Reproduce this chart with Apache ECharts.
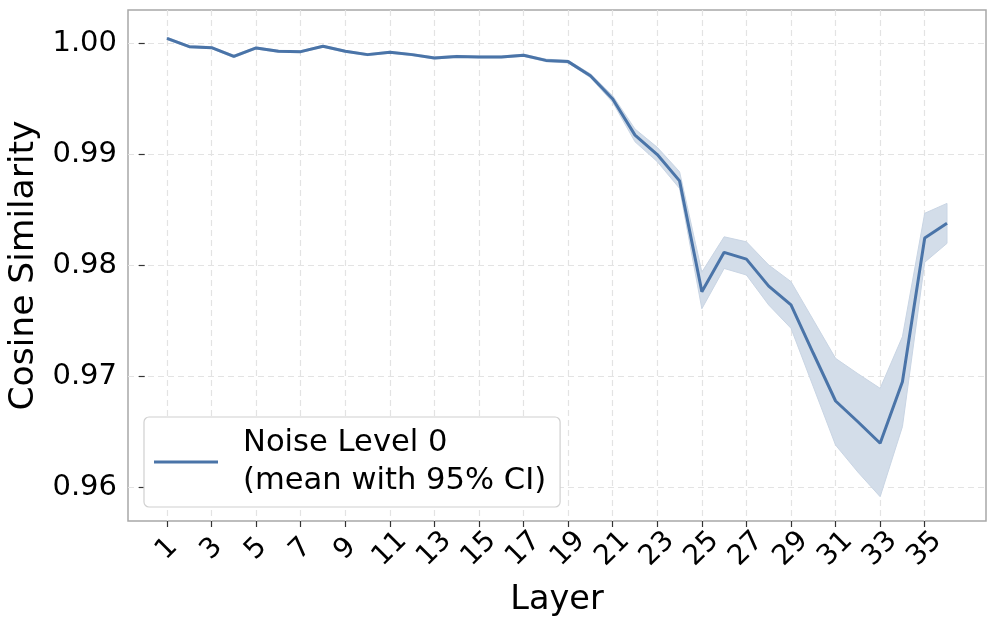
<!DOCTYPE html>
<html>
<head>
<meta charset="utf-8">
<script src="https://cdn.jsdelivr.net/npm/echarts@6/dist/echarts.min.js"></script>
<style>
html,body{margin:0;padding:0;background:#fff;}
#chart{width:997px;height:626px;}
</style>
</head>
<body>
<div id="chart"></div>
<script>
const layers = [1,2,3,4,5,6,7,8,9,10,11,12,13,14,15,16,17,18,19,20,21,22,23,24,25,26,27,28,29,30,31,32,33,34,35,36];
const meanValues = [1.00041,0.99967,0.99958,0.99879,0.99955,0.99925,0.99922,0.99970,0.99925,0.99895,0.99916,0.99895,0.99865,0.99879,0.99874,0.99874,0.99889,0.99843,0.99832,0.99705,0.99495,0.99170,0.98995,0.98758,0.97760,0.98114,0.98053,0.97810,0.97640,0.97205,0.96775,0.96588,0.96394,0.96949,0.98243,0.98375];
const lowerCI = [1.00030,0.99958,0.99949,0.99868,0.99946,0.99916,0.99913,0.99961,0.99916,0.99886,0.99907,0.99886,0.99855,0.99870,0.99865,0.99865,0.99879,0.99832,0.99820,0.99688,0.99465,0.99110,0.98931,0.98690,0.97606,0.97969,0.97910,0.97640,0.97430,0.96904,0.96378,0.96135,0.95913,0.96544,0.98025,0.98195];
const upperCI = [1.00052,0.99976,0.99967,0.99890,0.99964,0.99934,0.99931,0.99979,0.99934,0.99904,0.99925,0.99904,0.99875,0.99888,0.99883,0.99883,0.99899,0.99854,0.99844,0.99722,0.99525,0.99225,0.99060,0.98840,0.97936,0.98254,0.98209,0.98000,0.97850,0.97505,0.97159,0.97021,0.96889,0.97354,0.98466,0.98555];
const xTickValues = [1,3,5,7,9,11,13,15,17,19,21,23,25,27,29,31,33,35];
const yTickValues = [0.96,0.97,0.98,0.99,1.00];
const seriesName = 'Noise Level 0\n(mean with 95% CI)';

const FONT = '"DejaVu Sans", sans-serif';
const lineColor = '#4a74a8';
const bandColor = '#d3dde9';

const chart = echarts.init(document.getElementById('chart'), null, {renderer: 'canvas'});

function renderBand(params, api) {
  if (params.dataIndex !== 0) return null;
  const pts = [];
  for (let i = 0; i < layers.length; i++) pts.push(api.coord([layers[i], upperCI[i]]));
  for (let i = layers.length - 1; i >= 0; i--) pts.push(api.coord([layers[i], lowerCI[i]]));
  return {
    type: 'polygon',
    shape: {points: pts},
    style: {fill: bandColor, stroke: '#c9d5e4', lineWidth: 1}
  };
}

const option = {
  animation: false,
  backgroundColor: '#fff',
  textStyle: {fontFamily: FONT},
  grid: {left: 128, right: 11, top: 10, bottom: 105, show: true, borderColor: '#a8a8a8', borderWidth: 1.5,
    backgroundColor: 'transparent', containLabel: false, outerBoundsMode: 'none'},
  legend: {
    left: 144, top: 417,
    data: [{name: seriesName, icon: 'rect'}],
    itemWidth: 64, itemHeight: 3, itemGap: 10,
    padding: [7, 14, 7, 10],
    backgroundColor: '#fff',
    borderColor: '#d0d0d0', borderWidth: 1.2, borderRadius: 5,
    textStyle: {fontFamily: FONT, fontSize: 30.6, color: '#000', lineHeight: 38, padding: [0, 0, 0, 20]}
  },
  xAxis: {
    type: 'value', min: -0.75, max: 37.75,
    name: 'Layer', nameLocation: 'middle', nameGap: 62,
    nameTextStyle: {fontFamily: FONT, fontSize: 33.5, color: '#000'},
    axisLine: {show: false},
    axisTick: {show: true, customValues: xTickValues, length: 6, lineStyle: {color: '#333', width: 1.2}},
    axisLabel: {customValues: xTickValues, rotate: 45, align: 'center', verticalAlign: 'middle',
      fontFamily: FONT, fontSize: 28, color: '#000', margin: 28},
    splitLine: {show: true, lineStyle: {color: '#e3e3e3', type: [6, 4], width: 1.2}}
  },
  yAxis: {
    type: 'value', min: 0.95694, max: 1.00297,
    name: 'Cosine Similarity', nameLocation: 'middle', nameGap: 76,
    nameTextStyle: {fontFamily: FONT, fontSize: 34.5, color: '#000'},
    axisLine: {show: false},
    axisTick: {show: true, customValues: yTickValues, length: 6, lineStyle: {color: '#333', width: 1.2}},
    axisLabel: {customValues: yTickValues, fontFamily: FONT, fontSize: 29, color: '#000', margin: 11,
      formatter: v => v.toFixed(2)},
    splitLine: {show: true, lineStyle: {color: '#e3e3e3', type: [6, 4], width: 1.2}}
  },
  series: [
    {
      name: 'ciBand', type: 'custom', silent: true,
      renderItem: renderBand,
      encode: {x: 0, y: 1},
      data: layers.map((l, i) => [l, meanValues[i]]), z: 2
    },
    {
      name: seriesName, type: 'line', symbol: 'none',
      itemStyle: {color: lineColor},
      lineStyle: {color: lineColor, width: 3},
      data: layers.map((l, i) => [l, meanValues[i]]), z: 5
    }
  ]
};
chart.setOption(option);
</script>
</body>
</html>
